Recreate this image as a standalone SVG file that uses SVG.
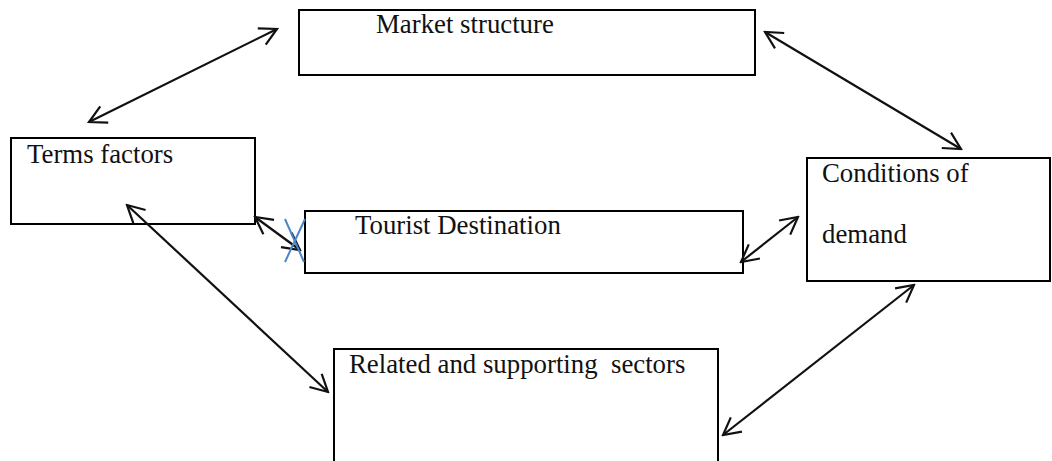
<svg xmlns="http://www.w3.org/2000/svg" width="1052" height="461" viewBox="0 0 1052 461">
<style>
.box{fill:#fff;stroke:#000;stroke-width:2}
.lbl{font-family:"Liberation Serif","Times New Roman",serif;font-size:26.8px;fill:#111}
.con{stroke:#111;stroke-width:2.2;fill:none;marker-start:url(#ah);marker-end:url(#ah)}
</style>
<defs>
<marker id="ah" markerUnits="userSpaceOnUse" viewBox="-20 -12 22 24" refX="0" refY="0" markerWidth="22" markerHeight="24" orient="auto-start-reverse">
<path d="M-17,-9 L0,0 L-17,9" fill="none" stroke="#111" stroke-width="2.2" stroke-linejoin="miter"/>
</marker>
</defs>
<rect width="1052" height="461" fill="#fff"/>
<g id="market-structure">
<rect class="box" x="299" y="10" width="456" height="65"/>
<text class="lbl" x="376" y="33">Market structure</text>
</g>
<g id="terms-factors">
<rect class="box" x="11" y="138" width="244" height="86"/>
<text class="lbl" x="27" y="163">Terms factors</text>
</g>
<g id="tourist-destination">
<rect class="box" x="305" y="211" width="438" height="62"/>
<text class="lbl" x="355" y="234">Tourist Destination</text>
</g>
<g id="conditions-of-demand">
<rect class="box" x="807" y="158" width="243" height="123"/>
<text class="lbl" x="822" y="182">Conditions of</text>
<text class="lbl" x="822" y="243">demand</text>
</g>
<g id="related-sectors">
<rect class="box" x="334" y="349" width="384" height="130"/>
<text class="lbl" x="349" y="373" xml:space="preserve">Related and supporting  sectors</text>
</g>
<g id="connectors">
<line class="con" x1="277" y1="29" x2="89" y2="122"/>
<line class="con" x1="765" y1="32" x2="961" y2="149"/>
<line class="con" x1="255" y1="217" x2="300" y2="250"/>
<line class="con" x1="741" y1="262" x2="798" y2="217"/>
<line class="con" x1="127" y1="205" x2="328" y2="392"/>
<line class="con" x1="723" y1="435" x2="914" y2="285"/>
<g stroke="#4a86c8" stroke-width="2" fill="none">
<line x1="285" y1="219" x2="304" y2="262"/>
<line x1="305" y1="219" x2="285" y2="262"/>
</g>
</g>
</svg>
